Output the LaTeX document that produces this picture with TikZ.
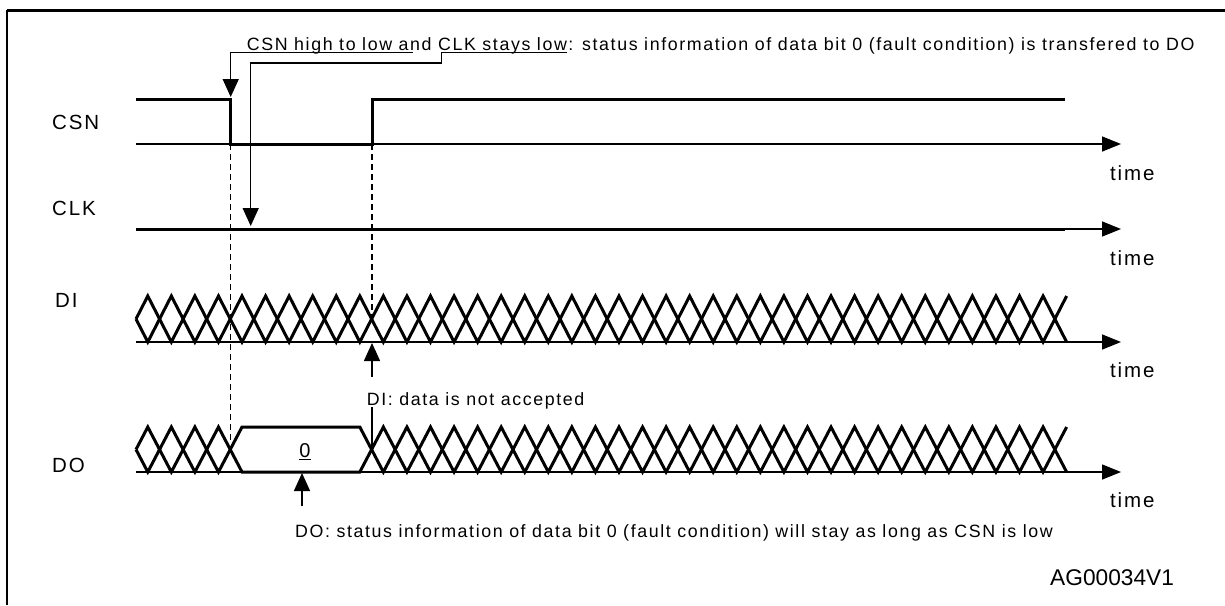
\documentclass[tikz,border=0pt]{standalone}
\usepackage{fontspec}
\setmainfont{Liberation Sans}
\newfontfamily\spaced[LetterSpace=9]{Liberation Sans}
\usetikzlibrary{arrows.meta}
\begin{document}
\begin{tikzpicture}[x=1pt,y=-1pt,
  thinl/.style={line width=1.5pt},
  sig/.style={line width=3pt,line join=miter,line cap=butt},
  axis/.style={line width=1.5pt,-{Triangle[length=19pt,width=15pt]}},
  ptr/.style={line width=1.5pt,-{Triangle[length=18pt,width=16pt]}},
  guide/.style={line width=1.3pt,dash pattern=on 6pt off 4pt},
  lbl/.style={font=\fontsize{17.8}{21}\spaced,inner sep=0pt},
  tlbl/.style={font=\fontsize{20.5}{24}\spaced,inner sep=0pt,anchor=base west},
  sname/.style={font=\fontsize{20.5}{24}\spaced,inner sep=0pt,anchor=west}
]
\useasboundingbox (0,0) rectangle (1225,605);
% frame
\draw[line width=3pt] (7,10.5) -- (1225,10.5);
\draw[line width=2pt] (7,10) -- (7,605);

% signal names
\node[sname] (lcsn) at (52,122) {CSN};
\node[sname] (lclk) at (52,208) {CLK};
\node[sname] (ldi) at (55,300) {DI};
\node[sname] (ldo) at (52,465) {DO};

% axes
\coordinate (a1s) at (136,144); \coordinate (a1e) at (1121,144);
\coordinate (a2s) at (136,229); \coordinate (a2e) at (1121,229);
\coordinate (a3s) at (136,342); \coordinate (a3e) at (1121,342);
\coordinate (a4s) at (136,472); \coordinate (a4e) at (1121,472);
\draw[axis] (a1s) -- (a1e);
\draw[axis] (a2s) -- (a2e);
\draw[axis] (a3s) -- (a3e);
\draw[axis] (a4s) -- (a4e);
\node[tlbl] (t1) at (1110,180) {time};
\node[tlbl] (t2) at (1110,265) {time};
\node[tlbl] (t3) at (1110,377) {time};
\node[tlbl] (t4) at (1110,507) {time};

% CSN
\draw[sig] (136,99) -- (230.5,99) -- (230.5,144) -- (372,144) -- (372,99) -- (1065,99);
% CLK
\draw[sig] (136,229) -- (1065,229);

% DI data pattern
\foreach \s in {1,-1}{
  \draw[sig] (136,319) \foreach \k in {0,...,39}{ -- ({147.78+23.56*\k},{319-\s*23*(1-2*mod(\k,2))}) };
}
% DO data pattern
\foreach \s in {1,-1}{
  \draw[sig] (136,449.5) \foreach \k in {0,...,4}{ -- ({147.78+23.56*\k},{449.5-\s*22.5*(1-2*mod(\k,2))}) }
     \foreach \k in {9,...,39}{ -- ({147.78+23.56*\k},{449.5-\s*22.5*(1-2*mod(\k-9,2))}) };
}
\node[font=\fontsize{20}{24}\selectfont,inner sep=0pt] (zero) at (305,452) {\underline{0}};

% guides
\draw[guide] (230.5,144) -- (230.5,440);
\draw[guide] (372,144) -- (372,322);

% top annotation
\node[lbl,anchor=base west] (note) at (246.7,50.5) {CSN high to low and CLK stays low: status information of data bit 0 (fault condition) is transfered to DO};
\coordinate (u1) at (413,52.5);
\coordinate (csnpt) at (230.7,97);
\coordinate (u2) at (567,52.5);
\coordinate (k2) at (441.5,52.5);
\coordinate (k3) at (441.5,63);
\coordinate (clkpt) at (250.7,226);
\draw[ptr] (u1) -| (csnpt);
\draw[ptr] (u2) -- (k2) -- (k3) -| (clkpt);

% DI annotation
\coordinate (di0) at (372,377);
\coordinate (di1) at (372,343);
\draw[ptr] (di0) -- (di1);
\node[lbl,anchor=base west] (dinote) at (366.7,405) {DI: data is not accepted};
\coordinate (dl0) at (372,407);
\coordinate (dl1) at (372,449);
\draw[thinl] (dl0) -- (dl1);

% DO annotation
\coordinate (do0) at (302,506);
\coordinate (do1) at (302,473);
\draw[ptr] (do0) -- (do1);
\node[lbl,anchor=base west] (donote) at (295,537) {DO: status information of data bit 0 (fault condition) will stay as long as CSN is low};

\node[font=\fontsize{22.7}{26}\selectfont,inner sep=0pt,anchor=base west] (id) at (1050,585) {AG00034V1};
\end{tikzpicture}
\end{document}
